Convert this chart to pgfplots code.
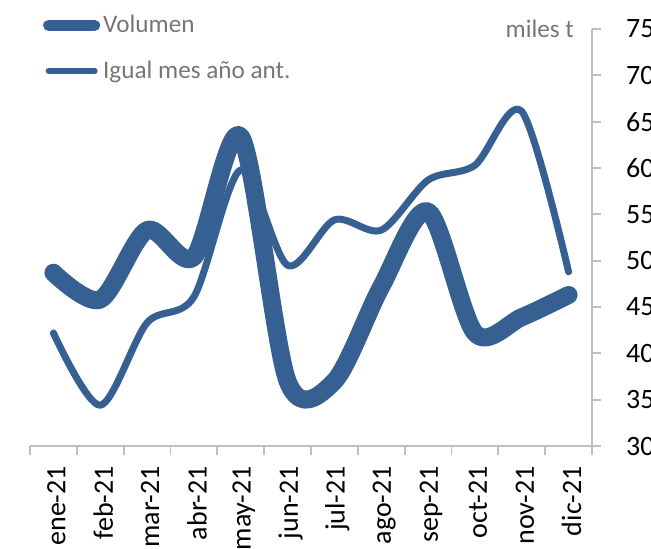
\documentclass[border=0pt]{standalone}
\usepackage{pgfplots}
\pgfplotsset{compat=1.18}
\usepackage{fontspec}
\setmainfont{Carlito}
\definecolor{serie}{RGB}{55,96,146}
\definecolor{axisgray}{RGB}{191,191,191}
\definecolor{txtgray}{RGB}{118,118,118}
\begin{document}
\begin{tikzpicture}
\path[use as bounding box] (0,0) rectangle (325.5pt,274pt);
\begin{axis}[
  at={(15pt,51pt)}, anchor=south west,
  scale only axis, width=281pt, height=208.5pt,
  xmin=-0.5, xmax=11.5, ymin=30, ymax=75,
  axis x line*=bottom, axis y line*=right,
  axis line style={axisgray, line width=0.9pt, -},
  every tick/.style={axisgray, line width=0.9pt},
  tick align=outside,
  major tick length=4.5pt,
  xtick={-0.5,0.5,...,11.5}, xticklabels={},
  extra x ticks={0,1,...,11},
  extra x tick labels={ene-21,feb-21,mar-21,abr-21,may-21,jun-21,jul-21,ago-21,sep-21,oct-21,nov-21,dic-21},
  extra x tick style={major tick length=0pt,
     tick label style={rotate=90, anchor=east, xshift=-6.5pt, yshift=-1.5pt, font=\fontsize{14}{16}\selectfont}},
  ytick={30,35,...,75},
  yticklabel style={anchor=west, xshift=9pt, font=\fontsize{14}{16}\selectfont},
  /pgf/number format/assume math mode=true,
  clip=false,
  legend cell align=left,
  legend style={at={(axis description cs:0.012,1.051)}, anchor=north west,
     draw=none, fill=none, font=\fontsize{12.6}{15}\selectfont\color{txtgray},
     row sep=9.5pt, nodes={inner sep=1.5pt}},
  legend image code/.code={\draw[#1] (0pt,0pt) -- (23pt,0pt);},
]
\addlegendimage{serie, line width=5.5pt, line cap=round}
\addlegendentry{Volumen}
\addlegendimage{serie, line width=3pt, line cap=round}
\addlegendentry{Igual mes año ant.}
\addplot[serie, line width=9pt, smooth, line cap=round, line join=round, forget plot]
  coordinates {(0,48.7) (1,45.8) (2,53.3) (3,50.4) (4,63.4) (5,37.0)
               (6,37.0) (7,47.2) (8,55.3) (9,42.2) (10,43.9) (11,46.3)};
\addplot[serie, line width=3.5pt, smooth, line cap=round, line join=round, forget plot]
  coordinates {(0,42.2) (1,34.4) (2,43.3) (3,46.1) (4,59.8) (5,49.5)
               (6,54.4) (7,53.3) (8,58.7) (9,60.3) (10,66.1) (11,48.8)};
\node[anchor=east, text=txtgray, font=\fontsize{12.6}{15}\selectfont, xshift=-5.5pt]
  at (axis cs:11.5,75) {miles t};
\end{axis}
\end{tikzpicture}
\end{document}
